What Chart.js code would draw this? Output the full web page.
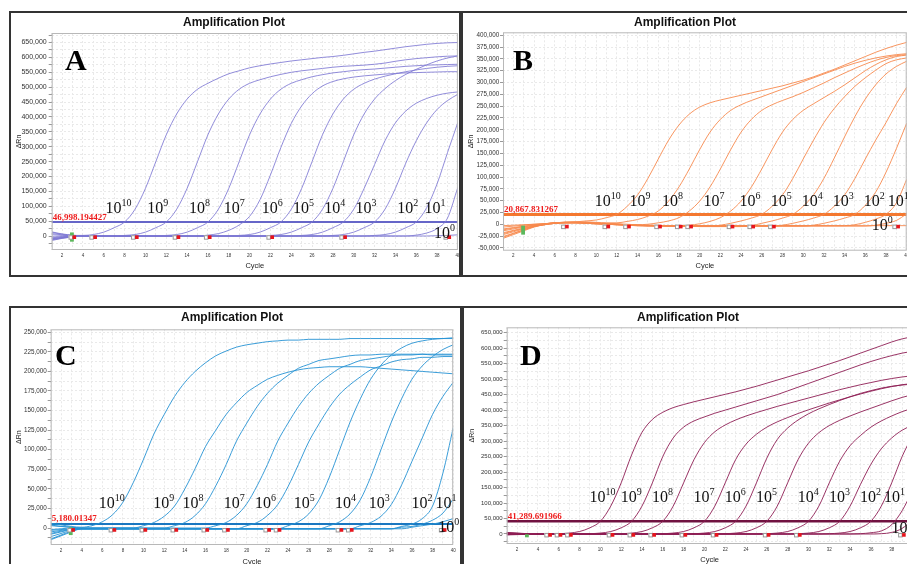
<!DOCTYPE html>
<html>
<head>
<meta charset="utf-8">
<title>Amplification Plots</title>
<script src="https://cdn.jsdelivr.net/npm/chart.js@4.4.1/dist/chart.umd.min.js"></script>
<style>
  html, body { margin: 0; padding: 0; background: #fff; }
  body { position: relative; width: 907px; height: 564px; overflow: hidden; }
  .panel { position: absolute; box-sizing: border-box; border: 2px solid #333; background: #fff; }
  canvas { position: absolute; }
  .ptitle { position: absolute; transform: translateX(-50%); white-space: nowrap;
            font: bold 12px "Liberation Sans", Arial, sans-serif; line-height: 14px; color: #111; }
  .letter { position: absolute; font: bold 30px "Liberation Serif", "Times New Roman", serif;
            line-height: 30px; color: #000; }
</style>
</head>
<body>
<div class="panel" style="left:9px;top:11px;width:452px;height:266px"></div>
<div class="panel" style="left:461px;top:11px;width:460px;height:266px"></div>
<div class="panel" style="left:9px;top:306px;width:453px;height:270px"></div>
<div class="panel" style="left:462px;top:306px;width:460px;height:270px"></div>

<canvas id="chartA" width="452" height="263" style="left:11px;top:13px"></canvas>
<canvas id="chartB" width="452" height="263" style="left:463px;top:13px"></canvas>
<canvas id="chartC" width="451" height="263" style="left:11px;top:308px"></canvas>
<canvas id="chartD" width="456" height="263" style="left:464px;top:308px"></canvas>

<div class="ptitle" style="left:234px;top:15px">Amplification Plot</div>
<div class="ptitle" style="left:685px;top:15px">Amplification Plot</div>
<div class="ptitle" style="left:232px;top:310px">Amplification Plot</div>
<div class="ptitle" style="left:688px;top:310px">Amplification Plot</div>
<div class="letter" style="left:65px;top:45px">A</div>
<div class="letter" style="left:513px;top:45px">B</div>
<div class="letter" style="left:55px;top:340px">C</div>
<div class="letter" style="left:520px;top:340px">D</div>

<script>
// cycles and axis labels
const cycles = [1,2,3,4,5,6,7,8,9,10,11,12,13,14,15,16,17,18,19,20,
                21,22,23,24,25,26,27,28,29,30,31,32,33,34,35,36,37,38,39,40];
const xTickLabels = [2,4,6,8,10,12,14,16,18,20,22,24,26,28,30,32,34,36,38,40];
const exponents = [10,9,8,7,6,5,4,3,2,1,0];
const baselineStart = 3;

// curve values are in thousands of ΔRn, one per cycle, 10^10 ... 10^0 copies
// --- A
const A_e10 = [12,6,2,2,5,13,28,47,90,160,250,340,410,460,493,513,530,545,555,565,572,578,583,588,592,596,600,603,607,612,617,621,626,631,636,640,644,647,649,650];
const A_e9 = [8,4,1,0,0,0,0,2,5,13,28,47,90,160,250,340,410,460,493,513,525,535,543,550,555,559,563,567,570,572,574,577,581,587,592,596,599,602,604,605];
const A_e8 = [4,2,1,0,0,0,0,0,0,0,0,2,5,13,28,47,90,160,250,340,410,460,493,513,525,535,542,548,552,556,559,561,564,567,570,572,574,575,576,577];
const A_e7 = [-3,-2,-1,0,0,0,0,0,0,0,0,0,0,0,0,3,8,19,37,66,122,205,297,378,437,478,504,519,528,534,538,541,544,546,548,549,550,551,552,552];
const A_e6 = [-6,-3,-1,0,0,0,0,0,0,0,0,0,0,0,0,0,0,0,2,5,13,28,47,90,160,250,340,410,460,493,513,527,537,545,552,558,563,567,570,572];
const A_e5 = [-9,-5,-2,0,0,0,0,0,0,0,0,0,0,0,0,0,0,0,0,0,0,2,5,13,28,47,90,160,250,340,410,460,495,522,543,560,575,588,598,605];
const A_e4 = [-12,-6,-2,0,0,0,0,0,0,0,0,0,0,0,0,0,0,0,0,0,0,0,0,0,2,5,13,28,47,90,160,240,320,380,420,446,462,473,480,484];
const A_e3 = [-15,-8,-3,0,0,0,0,0,0,0,0,0,0,0,0,0,0,0,0,0,0,0,0,0,0,0,0,2,5,13,28,47,90,160,245,320,380,425,455,476];
const A_e2 = [-10,-5,-2,0,0,0,0,0,0,0,0,0,0,0,0,0,0,0,0,0,0,0,0,0,0,0,0,0,0,0,0,2,5,13,28,47,95,175,280,382];
const A_e1 = [-13,-7,-3,0,0,0,0,0,0,0,0,0,0,0,0,0,0,0,0,0,0,0,0,0,0,0,0,0,0,0,0,0,0,0,0,3,10,25,60,164];
const A_e0 = [14,7,3,0,0,0,0,0,0,0,0,0,0,0,0,0,0,0,0,0,0,0,0,0,0,0,0,0,0,0,0,0,0,0,0,0,0,1,2,4];
const seriesA = [A_e10, A_e9, A_e8, A_e7, A_e6, A_e5, A_e4, A_e3, A_e2, A_e1, A_e0];
const thresholdA = 46998.194427;
const yTicksA = [0,50000,100000,150000,200000,250000,300000,350000,400000,450000,500000,550000,600000,650000];
const markersA = [3,5,9,13,16,22,29,39];
const markerLevelA = -4000;
const startSpanA = [12000, -19000];

// --- B
const B_e10 = [-10,-7,-4,-1,1,3,4,5,7,9,14,21,38,62,97,138,178,210,233,248,257,263,268,273,278,283,288,293,299,305,312,320,328,337,346,355,364,372,379,385];
const B_e9 = [-14,-10,-6,-2,1,3,4,5,5,4,3,3,6,10,17,28,49,79,117,158,195,222,241,253,262,270,278,286,294,302,310,318,326,334,341,347,352,356,359,361];
const B_e8 = [-18,-13,-8,-3,0,3,4,4,4,3,2,1,0,-1,0,3,7,14,28,49,79,117,158,195,222,241,253,262,270,279,289,299,310,320,330,339,347,353,357,359];
const B_e7 = [-22,-16,-10,-4,0,3,4,4,3,2,1,0,-1,-2,-2,-3,-3,-3,-2,1,6,14,28,49,79,117,158,195,222,241,255,268,281,295,310,325,338,348,355,358];
const B_e6 = [-26,-19,-12,-5,-1,2,3,3,3,2,1,0,-1,-2,-3,-3,-3,-4,-4,-4,-4,-2,2,7,13,21,38,62,97,138,178,215,245,270,292,310,326,340,348,352];
const B_e5 = [-30,-22,-14,-6,-1,2,3,3,2,1,0,-1,-2,-3,-3,-4,-4,-4,-4,-5,-5,-5,-5,-5,-3,2,7,13,21,38,62,97,140,185,228,265,295,318,334,345];
const B_e4 = [-6,-4,-2,0,1,3,4,4,3,2,1,0,-1,-2,-3,-3,-4,-4,-4,-4,-4,-4,-4,-4,-4,-4,-4,-2,2,7,13,21,38,62,97,138,178,215,255,290];
const B_e3 = [-12,-8,-5,-2,0,2,3,3,2,1,0,-1,-2,-2,-2,-2,-4,-4,-4,-4,-4,-4,-4,-4,-4,-4,-4,-4,-4,-4,-2,2,7,13,21,40,68,110,160,214];
const B_e2 = [-3,-2,-1,0,1,3,4,4,3,2,1,0,-1,-2,-3,-3,-3,-3,-3,-3,-3,-3,-3,-3,-3,-3,-3,-3,-3,-3,-3,-3,-3,-3,-1,4,11,21,45,95];
const B_e1 = [-20,-14,-9,-4,-1,2,3,3,2,1,0,-1,-2,-3,-4,-4,-4,-4,-4,-4,-4,-4,-4,-4,-4,-4,-4,-4,-4,-4,-4,-4,-4,-4,-4,-4,-2,2,8,22];
const B_e0 = [-28,-20,-12,-5,-1,2,3,3,2,1,0,-1,-2,-3,-3,-3,-3,-3,-3,-3,-3,-3,-3,-3,-3,-3,-3,-3,-3,-3,-3,-3,-3,-3,-3,-3,-3,-3,-3,-3];
const seriesB = [B_e10, B_e9, B_e8, B_e7, B_e6, B_e5, B_e4, B_e3, B_e2, B_e1, B_e0];
const thresholdB = 20867.831267;
const yTicksB = [-50000,-25000,0,25000,50000,75000,100000,125000,150000,175000,200000,225000,250000,275000,300000,325000,350000,375000,400000];
const markersB = [7,11,13,16,18,19,23,25,27,39];
const markerLevelB = -5000;
const startSpanB = [-3000, -22000];

// --- C
const C_e10 = [6,4,2,1,3,8,17,33,58,88,120,145,168,186,200,211,220,226,231,234,236,238,239,240,240,241,241,241,241,242,242,242,242,242,242,242,242,242,242,242];
const C_e9 = [3,2,1,0,0,0,0,0,0,3,7,15,28,50,76,104,125,145,160,173,182,190,195,199,202,204,205,206,206,206,206,205,204,203,202,201,200,199,198,197];
const C_e8 = [-2,-1,0,0,0,0,0,0,0,0,0,0,3,7,16,31,54,81,111,134,155,172,185,195,204,209,214,216,218,220,221,221,222,222,222,222,222,221,221,221];
const C_e7 = [-5,-3,-1,0,0,0,0,0,0,0,0,0,0,0,0,0,3,7,16,31,54,81,111,134,155,172,185,195,204,209,214,216,218,220,221,221,222,222,222,222];
const C_e6 = [-8,-5,-2,-1,-1,-1,-1,-1,-1,-1,-1,-1,-1,-1,-1,-1,-1,-1,-1,3,7,16,30,53,81,110,133,154,171,183,193,202,207,212,215,216,218,218,219,219];
const C_e5 = [-11,-7,-3,-1,-1,-1,-1,-1,-1,-1,-1,-1,-1,-1,-1,-1,-1,-1,-1,-1,-1,-1,-1,3,8,18,36,65,100,135,165,190,208,221,230,236,239,241,242,243];
const C_e4 = [-14,-9,-4,-1,-1,-1,-1,-1,-1,-1,-1,-1,-1,-1,-1,-1,-1,-1,-1,-1,-1,-1,-1,-1,-1,-1,-1,3,8,18,36,65,100,135,165,190,207,219,228,234];
const C_e3 = [4,2,1,-1,-1,-1,-1,-1,-1,-1,-1,-1,-1,-1,-1,-1,-1,-1,-1,-1,-1,-1,-1,-1,-1,-1,-1,-1,-1,-1,3,7,15,30,55,85,115,145,168,186];
const C_e2 = [-3,-2,-1,-1,-1,-1,-1,-1,-1,-1,-1,-1,-1,-1,-1,-1,-1,-1,-1,-1,-1,-1,-1,-1,-1,-1,-1,-1,-1,-1,-1,-1,-1,-1,2,5,12,28,70,128];
const C_e1 = [-7,-4,-2,-1,-1,-1,-1,-1,-1,-1,-1,-1,-1,-1,-1,-1,-1,-1,-1,-1,-1,-1,-1,-1,-1,-1,-1,-1,-1,-1,-1,-1,-1,-1,1,2,5,10,19,37];
const C_e0 = [-15,-10,-5,-1,-1,-1,-1,-1,-1,-1,-1,-1,-1,-1,-1,-1,-1,-1,-1,-1,-1,-1,-1,-1,-1,-1,-1,-1,-1,-1,-1,-1,-1,-1,-1,1,3,5,8,12];
const seriesC = [C_e10, C_e9, C_e8, C_e7, C_e6, C_e5, C_e4, C_e3, C_e2, C_e1, C_e0];
const thresholdC = 5180.01347;
const yTicksC = [0,25000,50000,75000,100000,125000,150000,175000,200000,225000,250000];
const markersC = [3,7,10,13,16,18,22,23,29,30,39];
const markerLevelC = -2500;
const startSpanC = [1000, -9000];

// --- D
const D_e10 = [3,2,1,0,0,1,3,8,20,41,90,165,255,328,370,393,408,418,427,435,443,451,459,468,477,487,497,507,517,527,538,549,560,572,584,596,608,620,630,637];
const D_e9 = [4,2,1,0,0,0,0,0,1,3,8,20,41,90,165,250,310,345,365,378,390,400,410,420,430,440,450,462,474,486,498,510,522,534,546,557,567,576,584,590];
const D_e8 = [2,1,0,0,0,0,0,0,0,0,0,1,3,8,20,41,90,165,240,295,330,352,368,381,392,402,412,421,430,439,448,457,466,474,482,489,496,502,507,511];
const D_e7 = [-2,-1,0,0,0,0,0,0,0,0,0,0,0,0,0,1,3,8,20,41,90,165,240,290,322,345,362,376,389,401,412,423,433,443,452,461,469,476,482,486];
const D_e6 = [-3,-2,-1,0,0,0,0,0,0,0,0,0,0,0,0,0,0,0,1,3,8,20,41,90,165,245,305,342,368,388,404,418,431,443,454,463,471,477,481,484];
const D_e5 = [5,3,1,0,0,0,0,0,0,0,0,0,0,0,0,0,0,0,0,0,0,1,3,8,20,41,90,165,240,293,327,350,367,381,394,406,418,430,441,450];
const D_e4 = [-1,0,0,0,0,0,0,0,0,0,0,0,0,0,0,0,0,0,0,0,0,0,0,0,0,1,3,8,20,41,90,165,235,285,318,345,365,381,395,406];
const D_e3 = [2,1,0,0,0,0,0,0,0,0,0,0,0,0,0,0,0,0,0,0,0,0,0,0,0,0,0,0,1,3,8,20,41,90,160,225,275,310,335,352];
const D_e2 = [-2,-1,0,0,0,0,0,0,0,0,0,0,0,0,0,0,0,0,0,0,0,0,0,0,0,0,0,0,0,0,0,1,3,8,20,41,90,165,250,318];
const D_e1 = [1,0,0,0,0,0,0,0,0,0,0,0,0,0,0,0,0,0,0,0,0,0,0,0,0,0,0,0,0,0,0,0,0,0,1,4,10,30,75,140];
const D_e0 = [0,0,0,0,0,0,0,0,0,0,0,0,0,0,0,0,0,0,0,0,0,0,0,0,0,0,0,0,0,0,0,0,0,0,0,0,1,5,18,45];
const seriesD = [D_e10, D_e9, D_e8, D_e7, D_e6, D_e5, D_e4, D_e3, D_e2, D_e1, D_e0];
const thresholdD = 41289.691966;
const yTicksD = [0,50000,100000,150000,200000,250000,300000,350000,400000,450000,500000,550000,600000,650000];
const markersD = [5,6,7,11,13,15,18,21,26,29,39];
const markerLevelD = -3000;
const startSpanD = [-1000, -6000];

const SANS = '"Liberation Sans", Arial, sans-serif';
const SERIF = '"Liberation Serif", "Times New Roman", serif';
const GRID = '#e9e9e9';

const panels = [
  { id: 'chartA', series: seriesA, threshold: thresholdA, thrText: '46,998.194427', yTicks: yTicksA,
    markers: markersA, markerLevel: markerLevelA, startSpan: startSpanA,
    yMin: -47000, yMax: 682000, gridStep: 25000,
    line: 'rgba(126,120,212,0.85)', thrColor: '#6666c8', thrWidth: 2,
    padTop: 20, padRight: 4.8, yWidth: 40.7, xHeight: 26, yFont: 7, yPad: 2, xPad: 2.6, cyclePad: 5.5, rnPad: 3.8,
    labelAt: thresholdA, labelDx: -19, labelDy: 9, fbDx: -3, fbDy: 2 },
  { id: 'chartB', series: seriesB, threshold: thresholdB, thrText: '20,867.831267', yTicks: yTicksB,
    markers: markersB, markerLevel: markerLevelB, startSpan: startSpanB,
    yMin: -56000, yMax: 406300, gridStep: 25000,
    line: 'rgba(247,138,78,0.9)', thrColor: '#f4782f', thrWidth: 3,
    padTop: 19.3, padRight: 8.3, yWidth: 40, xHeight: 25.3, yFont: 6.3, yPad: 0.7, xPad: 1.9, cyclePad: 5.5, rnPad: 4.1,
    labelAt: thresholdB, labelDx: -22, labelDy: 8, fbDx: -14, fbDy: 6 },
  { id: 'chartC', series: seriesC, threshold: thresholdC, thrText: '5,180.01347', yTicks: yTicksC,
    markers: markersC, markerLevel: markerLevelC, startSpan: startSpanC,
    yMin: -21700, yMax: 253800, gridStep: 12500,
    line: 'rgba(38,146,212,0.9)', thrColor: '#1a77c0', thrWidth: 2,
    padTop: 21.3, padRight: 8.8, yWidth: 39.7, xHeight: 26, yFont: 6.3, yPad: 1, xPad: 3, cyclePad: 4.8, rnPad: 4.1,
    labelAt: 25000, labelDx: -19, labelDy: 0, fbDx: 6, fbDy: 4 },
  { id: 'chartD', series: seriesD, threshold: thresholdD, thrText: '41,289.691966', yTicks: yTicksD,
    markers: markersD, markerLevel: markerLevelD, startSpan: startSpanD,
    yMin: -32300, yMax: 667400, gridStep: 25000,
    line: 'rgba(142,30,84,0.9)', thrColor: '#701240', thrWidth: 2.5,
    padTop: 19.3, padRight: 7.5, yWidth: 42.7, xHeight: 27, yFont: 6, yPad: 1, xPad: 3.3, cyclePad: 6.5, rnPad: 3.8,
    labelAt: 103000, labelDx: -23, labelDy: 0, fbDx: 0, fbDy: -1 }
];

// cycle at which a curve first reaches a level (null if it never does)
function crossing(vals, level) {
  for (let i = 4; i < vals.length; i++) {
    const a = vals[i - 1] * 1000, b = vals[i] * 1000;
    if (a < level && b >= level) return cycles[i - 1] + (level - a) / (b - a) * (cycles[i] - cycles[i - 1]);
  }
  return null;
}

const BIG = '16px ' + SERIF, SMALL = '10px ' + SERIF;

function powerWidth(ctx, exp) {
  ctx.font = BIG;
  const w1 = ctx.measureText('10').width;
  ctx.font = SMALL;
  return w1 + ctx.measureText(String(exp)).width;
}

function drawPower(ctx, exp, left, base) {
  ctx.fillStyle = '#111';
  ctx.font = BIG;
  const w1 = ctx.measureText('10').width;
  ctx.fillText('10', left, base);
  ctx.font = SMALL;
  ctx.fillText(String(exp), left + w1, base - 7);
}

function buildPanel(p) {
  const lastCycle = cycles[cycles.length - 1];
  const datasets = p.series.map(vals => ({
    data: vals.map((v, i) => ({ x: cycles[i], y: v * 1000 })),
    borderColor: p.line,
    borderWidth: 1,
    pointRadius: 0,
    cubicInterpolationMode: 'monotone'
  }));
  datasets.push({
    data: [{ x: cycles[0], y: p.threshold }, { x: lastCycle, y: p.threshold }],
    borderColor: p.thrColor,
    borderWidth: p.thrWidth,
    pointRadius: 0
  });

  const overlay = {
    id: 'overlay',
    beforeDraw(chart) {
      const { ctx, chartArea: a } = chart;
      ctx.save();
      ctx.fillStyle = '#fff';
      ctx.fillRect(a.left, a.top, a.width, a.height);
      ctx.restore();
    },
    afterDatasetsDraw(chart) {
      const { ctx, chartArea: a, scales: { x, y } } = chart;
      ctx.save();
      ctx.strokeStyle = '#b8b8b8';
      ctx.lineWidth = 1;
      ctx.strokeRect(a.left + 0.5, a.top + 0.5, a.width - 1, a.height - 1);

      // baseline start marker
      const gx = x.getPixelForValue(baselineStart);
      const g1 = y.getPixelForValue(p.startSpan[0]);
      const g2 = y.getPixelForValue(p.startSpan[1]);
      ctx.fillStyle = '#5cb85c';
      ctx.fillRect(gx - 2.5, g1, 3.8, Math.max(g2 - g1, 3));

      // Ct markers
      p.markers.forEach(c => {
        const mx = x.getPixelForValue(c), my = y.getPixelForValue(p.markerLevel);
        ctx.fillStyle = '#fff';
        ctx.fillRect(mx - 4, my - 2, 4, 4);
        ctx.strokeStyle = '#9a9a9a';
        ctx.strokeRect(mx - 3.5, my - 1.5, 3.5, 3.5);
        ctx.fillStyle = '#e8141c';
        ctx.fillRect(mx, my - 1.8, 3.6, 3.6);
      });

      // threshold value
      const ty = y.getPixelForValue(p.threshold);
      ctx.fillStyle = '#ee1c1c';
      ctx.font = 'bold 9px ' + SERIF;
      ctx.textAlign = 'left';
      ctx.textBaseline = 'alphabetic';
      ctx.fillText(p.thrText, a.left + 1, ty - 2.5);

      // dilution labels beside each curve, kept from overlapping one another
      let prevRight = -Infinity;
      p.series.forEach((vals, i) => {
        const c = crossing(vals, p.labelAt);
        const w = powerWidth(ctx, exponents[i]);
        if (c === null) {
          const right = x.getPixelForValue(lastCycle) + p.fbDx;
          drawPower(ctx, exponents[i], right - w, y.getPixelForValue(0) + p.fbDy);
        } else {
          const left = Math.max(x.getPixelForValue(c) + p.labelDx, prevRight + 3);
          drawPower(ctx, exponents[i], left, y.getPixelForValue(p.labelAt) - p.labelDy);
          prevRight = left + w;
        }
      });
      ctx.restore();
    }
  };

  new Chart(document.getElementById(p.id), {
    type: 'line',
    data: { datasets },
    options: {
      responsive: false,
      animation: false,
      events: [],
      layout: { padding: { left: 0, top: p.padTop, right: p.padRight, bottom: 0 } },
      plugins: { legend: { display: false }, tooltip: { enabled: false } },
      scales: {
        x: {
          type: 'linear', min: cycles[0], max: lastCycle,
          afterFit: s => { s.height = p.xHeight; },
          afterBuildTicks: s => { s.ticks = cycles.map(c => ({ value: c })); },
          ticks: {
            autoSkip: false, maxRotation: 0, padding: p.xPad, color: '#333',
            font: { family: SANS, size: 4.5 },
            callback: v => xTickLabels.includes(v) ? String(v) : ''
          },
          grid: { color: GRID, drawTicks: false },
          border: { display: false, dash: [2, 2] },
          title: { display: true, text: 'Cycle', color: '#222', font: { family: SANS, size: 7.5 },
                   padding: { top: 0, bottom: p.cyclePad } }
        },
        y: {
          type: 'linear', min: p.yMin, max: p.yMax,
          afterFit: s => { s.width = p.yWidth; },
          afterBuildTicks: s => {
            const t = [];
            for (let v = Math.ceil(p.yMin / p.gridStep) * p.gridStep; v <= p.yMax; v += p.gridStep) t.push({ value: v });
            s.ticks = t;
          },
          ticks: {
            autoSkip: false, padding: p.yPad, color: '#333',
            font: { family: SANS, size: p.yFont },
            callback: v => p.yTicks.includes(v) ? v.toLocaleString('en-US') : ''
          },
          grid: { color: GRID, tickLength: 3, tickColor: '#999' },
          border: { display: false, dash: [2, 2] },
          title: { display: true, text: 'ΔRn', color: '#222', font: { family: SANS, size: 7 },
                   padding: { top: p.rnPad, bottom: 0 } }
        }
      }
    },
    plugins: [overlay]
  });
}

panels.forEach(buildPanel);
</script>
</body>
</html>
